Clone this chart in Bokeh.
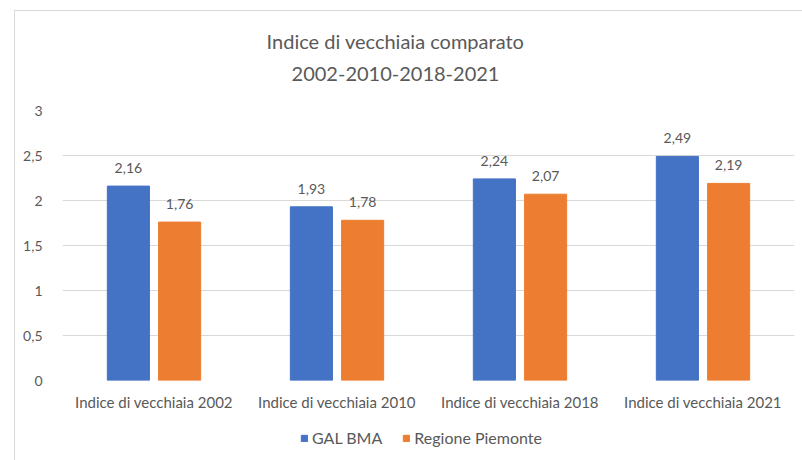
from bokeh.plotting import figure
from bokeh.layouts import column
from bokeh.models import (FactorRange, Range1d, ColumnDataSource, FixedTicker, Label,
                          Legend, LegendItem)
from bokeh.transform import dodge
from bokeh.core.properties import value
from bokeh.embed import file_html
from bokeh.resources import INLINE

categories = ["Indice di vecchiaia 2002", "Indice di vecchiaia 2010",
              "Indice di vecchiaia 2018", "Indice di vecchiaia 2021"]
gal_bma = [2.16, 1.93, 2.24, 2.49]
piemonte = [1.76, 1.78, 2.07, 2.19]
series_names = ["GAL BMA", "Regione Piemonte"]
y_ticks = [0, 0.5, 1, 1.5, 2, 2.5, 3]
title_lines = ["Indice di vecchiaia comparato", "2002-2010-2018-2021"]

FONT = "Lato"
TXT = "#595959"
BLUE = "#4472C4"
ORANGE = "#ED7D31"
W = 787
FRAME_W = 732  # width of the aligned plot frames in pixels


def fmt(v):
    return ("%g" % v).replace(".", ",")


def bare(fig):
    fig.outline_line_color = None
    fig.grid.visible = False
    fig.min_border = 0
    fig.min_border_left = 0
    fig.min_border_right = 0
    fig.min_border_top = 0
    fig.min_border_bottom = 0


src = ColumnDataSource(dict(
    cat=categories, gal=gal_bma, pie=piemonte,
    gal_lbl=[fmt(v) for v in gal_bma], pie_lbl=[fmt(v) for v in piemonte],
))

# ---- title strip -------------------------------------------------------
pt = figure(width=W, height=89, x_range=Range1d(0, FRAME_W), y_range=Range1d(89, 0),
            x_axis_type=None, y_axis_type=None, output_backend="svg",
            toolbar_location=None)
bare(pt)
for txt, ty in zip(title_lines, (29, 62)):
    pt.add_layout(Label(x=333, y=ty, text=txt, text_align="center", text_baseline="middle",
                        text_font=FONT, text_font_size="20px", text_color=TXT))

# ---- main chart --------------------------------------------------------
p = figure(width=W, height=320, x_range=FactorRange(factors=categories, range_padding=0),
           y_range=Range1d(0, 3), output_backend="svg", toolbar_location=None,
           min_border_left=47, min_border_right=8, min_border_top=10, min_border_bottom=40)

p.vbar(x=dodge("cat", -0.14, range=p.x_range), top="gal", width=0.23, source=src,
       fill_color=BLUE, line_color=BLUE)
p.vbar(x=dodge("cat", 0.14, range=p.x_range), top="pie", width=0.23, source=src,
       fill_color=ORANGE, line_color=ORANGE)

for col, lbl, off in (("gal", "gal_lbl", -0.14), ("pie", "pie_lbl", 0.14)):
    p.text(x=dodge("cat", off, range=p.x_range), y=col, text=lbl, source=src,
           text_align="center", text_baseline="bottom", y_offset=-13,
           text_font=value(FONT), text_font_size="14px", text_color=TXT)

p.outline_line_color = None
p.xgrid.grid_line_color = None
p.ygrid.grid_line_color = "#D9D9D9"

p.yaxis.ticker = FixedTicker(ticks=y_ticks)
p.yaxis.major_label_overrides = {t: fmt(t) for t in y_ticks}
for ax in (p.xaxis[0], p.yaxis[0]):
    ax.axis_line_color = None
    ax.major_tick_line_color = None
    ax.minor_tick_line_color = None
    ax.major_label_text_font = FONT
    ax.major_label_text_color = TXT
p.yaxis.major_label_text_font_size = "14px"
p.xaxis.major_label_text_font_size = "15px"
p.yaxis.major_label_standoff = 14
p.xaxis.major_label_standoff = 6

# ---- legend strip (swatch renderers fall outside this strip's y range) --
pl = figure(width=W, height=40, x_range=FactorRange(factors=categories, range_padding=0),
            y_range=Range1d(10, 11), x_axis_type=None, y_axis_type=None,
            output_backend="svg", toolbar_location=None)
bare(pl)
s1 = pl.vbar(x=dodge("cat", -0.14, range=pl.x_range), top="gal", width=0.23, source=src,
             fill_color=BLUE, line_color=BLUE)
s2 = pl.vbar(x=dodge("cat", 0.14, range=pl.x_range), top="pie", width=0.23, source=src,
             fill_color=ORANGE, line_color=ORANGE)
legend = Legend(items=[LegendItem(label=series_names[0], renderers=[s1]),
                       LegendItem(label=series_names[1], renderers=[s2])],
                location=(238, 13), orientation="horizontal",
                glyph_width=8, glyph_height=8, label_standoff=4, spacing=20,
                padding=0, margin=0, border_line_color=None, background_fill_alpha=0,
                label_text_font=FONT, label_text_font_size="16px", label_text_color=TXT)
pl.add_layout(legend, "center")

layout = column(pt, p, pl, spacing=0, margin=(10, 0, 0, 14),
                styles={"border-left": "1px solid #D9D9D9", "border-top": "1px solid #D9D9D9"})

open("out.html", "w").write(file_html(layout, INLINE))
